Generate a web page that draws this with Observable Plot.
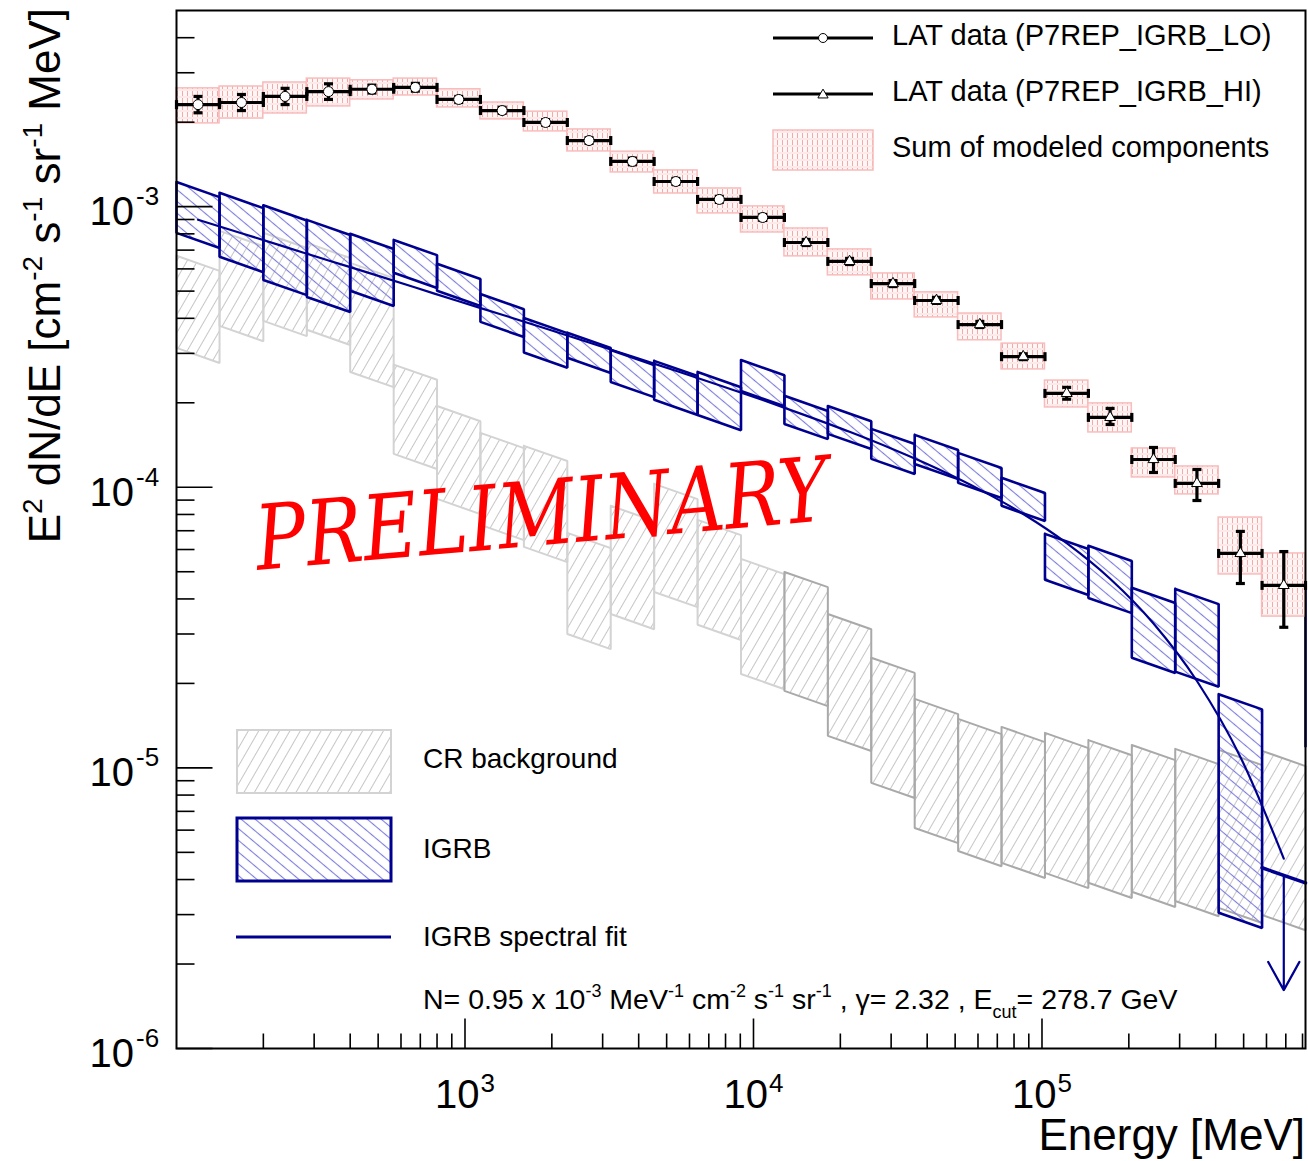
<!DOCTYPE html>
<html><head><meta charset="utf-8">
<script src="https://cdn.jsdelivr.net/npm/d3@7"></script>
<script src="https://cdn.jsdelivr.net/npm/@observablehq/plot@0.6"></script>
<style>body{margin:0;background:#fff;} #chart svg{display:block;}</style>
</head><body><div id="chart"></div>
<script>
// ---------------- data ----------------
const binEdges = [100, 141, 200, 283, 400, 566, 800, 1131, 1600, 2263, 3200, 4525, 6400, 9051, 12800, 18102, 25600, 36204, 51200, 72408, 102400, 144815, 204800, 289631, 409600, 579262, 819200];

const latSelection = ["LO","LO","LO","LO","LO","LO","LO","LO","LO","LO","LO","LO","LO","LO","HI","HI","HI","HI","HI","HI","HI","HI","HI","HI","HI","HI"];
const latFlux = [2.31e-3, 2.35e-3, 2.47e-3, 2.57e-3, 2.62e-3, 2.66e-3, 2.41e-3, 2.20e-3, 1.995e-3, 1.72e-3, 1.449e-3, 1.229e-3, 1.061e-3, 9.15e-4, 7.45e-4, 6.38e-4, 5.32e-4, 4.63e-4, 3.80e-4, 2.92e-4, 2.16e-4, 1.774e-4, 1.256e-4, 1.032e-4, 5.81e-5, 4.47e-5];
const latLow  = [2.16e-3, 2.20e-3, 2.31e-3, 2.41e-3, 2.54e-3, 2.58e-3, 2.35e-3, 2.15e-3, 1.95e-3, 1.68e-3, 1.41e-3, 1.20e-3, 1.035e-3, 8.93e-4, 7.27e-4, 6.22e-4, 5.19e-4, 4.52e-4, 3.71e-4, 2.85e-4, 2.06e-4, 1.674e-4, 1.129e-4, 8.97e-5, 4.54e-5, 3.17e-5];
const latHigh = [2.47e-3, 2.51e-3, 2.64e-3, 2.74e-3, 2.71e-3, 2.75e-3, 2.47e-3, 2.26e-3, 2.04e-3, 1.76e-3, 1.49e-3, 1.26e-3, 1.088e-3, 9.38e-4, 7.64e-4, 6.54e-4, 5.45e-4, 4.75e-4, 3.90e-4, 2.99e-4, 2.27e-4, 1.91e-4, 1.386e-4, 1.157e-4, 6.96e-5, 5.90e-5];

const modelLow  = [1.98e-3, 2.06e-3, 2.148e-3, 2.276e-3, 2.41e-3, 2.49e-3, 2.257e-3, 2.046e-3, 1.854e-3, 1.573e-3, 1.324e-3, 1.114e-3, 9.46e-4, 8.09e-4, 6.65e-4, 5.69e-4, 4.67e-4, 4.03e-4, 3.34e-4, 2.63e-4, 1.925e-4, 1.568e-4, 1.084e-4, 9.43e-5, 4.89e-5, 3.46e-5];
const modelHigh = [2.64e-3, 2.68e-3, 2.77e-3, 2.86e-3, 2.82e-3, 2.86e-3, 2.62e-3, 2.35e-3, 2.18e-3, 1.884e-3, 1.57e-3, 1.346e-3, 1.161e-3, 1.002e-3, 8.36e-4, 7.04e-4, 5.78e-4, 4.95e-4, 4.16e-4, 3.25e-4, 2.40e-4, 1.99e-4, 1.375e-4, 1.186e-4, 7.80e-5, 5.81e-5];

const igrbLow  = [7.58e-4, 6.22e-4, 5.15e-4, 4.48e-4, 4.71e-4, 5.46e-4, 4.71e-4, 3.65e-4, 2.84e-4, 2.72e-4, 2.23e-4, 1.925e-4, 1.70e-4, 2.07e-4, 1.58e-4, 1.456e-4, 1.186e-4, 1.138e-4, 9.74e-5, 8.07e-5, 4.40e-5, 3.79e-5, 2.32e-5, 2.07e-5, 2.86e-6];
const igrbHigh = [1.15e-3, 1.052e-3, 9.50e-4, 8.43e-4, 7.52e-4, 7.15e-4, 5.88e-4, 4.59e-4, 3.77e-4, 3.34e-4, 2.90e-4, 2.65e-4, 2.42e-4, 2.67e-4, 1.99e-4, 1.83e-4, 1.517e-4, 1.444e-4, 1.246e-4, 1.015e-4, 6.41e-5, 5.81e-5, 4.12e-5, 4.08e-5, 1.72e-5];
const igrbUpperLimit = [4.14e-6];          // last bin (upper limit)
const igrbEdgeSegment = [1.18e-5, 4.54e-5]; // blue segment on the right border

const crLow  = [2.95e-4, 3.53e-4, 3.68e-4, 3.42e-4, 2.42e-4, 1.236e-4, 8.54e-5, 6.90e-5, 5.76e-5, 2.82e-5, 3.32e-5, 3.98e-5, 3.04e-5, 2.03e-5, 1.767e-5, 1.222e-5, 8.31e-6, 5.74e-6, 4.75e-6, 4.31e-6, 3.97e-6, 3.66e-6, 3.40e-6, 3.15e-6, 2.98e-6, 2.81e-6];
const crHigh = [6.28e-4, 7.70e-4, 7.58e-4, 6.98e-4, 5.92e-4, 2.57e-4, 1.83e-4, 1.468e-4, 1.32e-4, 6.46e-5, 8.07e-5, 9.66e-5, 7.19e-5, 5.22e-5, 4.69e-5, 3.32e-5, 2.32e-5, 1.655e-5, 1.404e-5, 1.315e-5, 1.252e-5, 1.18e-5, 1.134e-5, 1.098e-5, 1.089e-5, 1.080e-5];

const fitFlux = [8.98e-4, 8.04e-4, 7.19e-4, 6.43e-4, 5.76e-4, 5.15e-4, 4.60e-4, 4.12e-4, 3.68e-4, 3.28e-4, 2.92e-4, 2.60e-4, 2.31e-4, 2.045e-4, 1.80e-4, 1.576e-4, 1.366e-4, 1.169e-4, 9.81e-5, 8.03e-5, 6.32e-5, 4.72e-5, 3.27e-5, 2.04e-5, 1.094e-5, 4.75e-6];

const yMajorTicks = [1e-6, 1e-5, 1e-4, 1e-3];
const yTickExponents = ["-6", "-5", "-4", "-3"];
const xMajorTicks = [1e3, 1e4, 1e5];
const xTickExponents = ["3", "4", "5"];

const legendLabels = ["LAT data (P7REP_IGRB_LO)", "LAT data (P7REP_IGRB_HI)", "Sum of modeled components"];
const legend2Labels = ["CR background", "IGRB", "IGRB spectral fit"];

// ---------------- derived tables ----------------
const bins = latFlux.map((_, i) => ({i, lo: binEdges[i], hi: binEdges[i + 1], c: Math.sqrt(binEdges[i] * binEdges[i + 1])}));
const lat = bins.map(b => ({...b, flux: latFlux[b.i], low: latLow[b.i], high: latHigh[b.i], sel: latSelection[b.i]}));
const model = bins.map(b => ({...b, low: modelLow[b.i], high: modelHigh[b.i]}));

const tilt = -0.36; // drawn slope of the box edges inside a bin (style)
const tf = (b, e) => Math.pow(e / b.c, tilt);
function areaRows(lows, highs) {
  return lows.flatMap((l, i) => [bins[i].lo, bins[i].hi].map(e => ({i, x: e, y1: l * tf(bins[i], e), y2: highs[i] * tf(bins[i], e)})));
}
function outlineRows(lows, highs) {
  return lows.flatMap((l, i) => {
    const b = bins[i], h = highs[i];
    return [[b.lo, h], [b.hi, h], [b.hi, l], [b.lo, l], [b.lo, h]].map(([e, v]) => ({i, x: e, y: v * tf(b, e)}));
  });
}
const crArea = areaRows(crLow, crHigh);
const crOutline = outlineRows(crLow, crHigh);
const igrbArea = areaRows(igrbLow, igrbHigh);
const igrbOutline = outlineRows(igrbLow, igrbHigh);
const ulBin = bins[25];
const ulRows = [ulBin.lo, ulBin.hi].map(e => ({x: e, y: igrbUpperLimit[0] * tf(ulBin, e)}));
const fitRows = bins.map(b => ({x: b.c, y: fitFlux[b.i]}));

const yMinorTicks = [];
for (const d of yMajorTicks) for (let k = 2; k <= 9; k++) if (k * d < 5e-3) yMinorTicks.push(k * d);
const xMinorTicks = [];
for (const d of [1e2, 1e3, 1e4, 1e5]) for (let k = 2; k <= 9; k++) if (k * d < 819200) xMinorTicks.push(k * d);

// ---------------- styles ----------------
const navy = "#000090";
const seg = (dx, dy) => ({draw(ctx) { ctx.moveTo(-dx, -dy); ctx.lineTo(dx, dy); }});
const tick = (dx, dy) => ({draw(ctx) { ctx.moveTo(0, 0); ctx.lineTo(dx, dy); }});

const plot = Plot.plot({
  width: 1308, height: 1161,
  marginLeft: 176, marginRight: 3, marginTop: 10, marginBottom: 113,
  x: {type: "log", domain: [100, 819200], axis: null},
  y: {type: "log", domain: [1e-6, 5e-3], axis: null},
  style: {background: "white"},
  marks: [
    // CR background
    Plot.areaY(crArea, {x: "x", y1: "y1", y2: "y2", z: "i", fill: "url(#hatchGray)"}),
    Plot.line(crOutline.filter(d => d.i < 14), {x: "x", y: "y", z: "i", stroke: "#d3d3d3", strokeWidth: 2, strokeLinejoin: "miter"}),
    Plot.line(crOutline.filter(d => d.i >= 14), {x: "x", y: "y", z: "i", stroke: "#a9a9a9", strokeWidth: 2, strokeLinejoin: "miter"}),
    // IGRB
    Plot.areaY(igrbArea, {x: "x", y1: "y1", y2: "y2", z: "i", fill: "url(#hatchBlue)"}),
    Plot.line(igrbOutline, {x: "x", y: "y", z: "i", stroke: navy, strokeWidth: 2.6, strokeLinejoin: "miter"}),
    Plot.line(fitRows, {x: "x", y: "y", curve: "monotone-x", stroke: navy, strokeWidth: 2.2}),
    Plot.line(ulRows, {x: "x", y: "y", stroke: navy, strokeWidth: 3.5}),
    Plot.arrow(igrbUpperLimit, {x1: () => ulBin.c, x2: () => ulBin.c, y1: d => d, y2: d => d * 0.39, stroke: navy, strokeWidth: 2.2, headLength: 22, headAngle: 58}),
    Plot.ruleX([ulBin.hi], {y1: igrbEdgeSegment[0], y2: igrbEdgeSegment[1], stroke: navy, strokeWidth: 2.5}),
    // model sum
    Plot.rect(model, {x1: "lo", x2: "hi", y1: "low", y2: "high", fill: "url(#hatchPink)", stroke: "#f8bcbc", strokeWidth: 1.5}),
    // LAT data
    Plot.ruleY(lat, {y: "flux", x1: "lo", x2: "hi", stroke: "black", strokeWidth: 3.2}),
    Plot.ruleX(lat, {x: "c", y1: "low", y2: "high", stroke: "black", strokeWidth: 3.2}),
    Plot.dot(lat, {x: "lo", y: "flux", r: 1, symbol: seg(0, 4.5), stroke: "black", strokeWidth: 3.2, fill: "none"}),
    Plot.dot(lat, {x: "hi", y: "flux", r: 1, symbol: seg(0, 4.5), stroke: "black", strokeWidth: 3.2, fill: "none"}),
    Plot.dot(lat, {x: "c", y: "low", r: 1, symbol: seg(4.5, 0), stroke: "black", strokeWidth: 3.2, fill: "none"}),
    Plot.dot(lat, {x: "c", y: "high", r: 1, symbol: seg(4.5, 0), stroke: "black", strokeWidth: 3.2, fill: "none"}),
    Plot.dot(lat.filter(d => d.sel === "LO"), {x: "c", y: "flux", r: 5, fill: "white", stroke: "black", strokeWidth: 1}),
    Plot.dot(lat.filter(d => d.sel === "HI"), {x: "c", y: "flux", r: 4, symbol: "triangle", fill: "white", stroke: "black", strokeWidth: 1}),
    // frame and inward ticks
    Plot.frame({stroke: "black", strokeWidth: 2}),
    Plot.dot(yMajorTicks, {x: () => 100, y: d => d, r: 1, symbol: tick(36, 0), stroke: "black", strokeWidth: 1.6, fill: "none"}),
    Plot.dot(yMinorTicks, {x: () => 100, y: d => d, r: 1, symbol: tick(18, 0), stroke: "black", strokeWidth: 1.6, fill: "none"}),
    Plot.dot(xMajorTicks, {x: d => d, y: () => 1e-6, r: 1, symbol: tick(0, -30), stroke: "black", strokeWidth: 1.6, fill: "none"}),
    Plot.dot(xMinorTicks, {x: d => d, y: () => 1e-6, r: 1, symbol: tick(0, -15), stroke: "black", strokeWidth: 1.6, fill: "none"})
  ]
});
document.getElementById("chart").append(plot);

// ---------------- patterns, texts, legends ----------------
const svg = d3.select(plot);
const defs = svg.insert("defs", ":first-child");
function hatch(id, angle, size, color, width) {
  const p = defs.append("pattern").attr("id", id).attr("patternUnits", "userSpaceOnUse")
    .attr("width", size).attr("height", size).attr("patternTransform", `rotate(${angle})`);
  p.append("line").attr("x1", size / 2).attr("y1", 0).attr("x2", size / 2).attr("y2", size)
    .attr("stroke", color).attr("stroke-width", width);
}
hatch("hatchBlue", -50, 9, "#7d7dde", 1.1);
hatch("hatchGray", 30, 9, "#c6c6c6", 1);
const pp = defs.append("pattern").attr("id", "hatchPink").attr("patternUnits", "userSpaceOnUse").attr("width", 5).attr("height", 7);
pp.append("rect").attr("width", 5).attr("height", 7).attr("fill", "#fff6f6");
pp.append("line").attr("x1", 2.5).attr("y1", 0).attr("x2", 2.5).attr("y2", 5).attr("stroke", "#f5a9a9").attr("stroke-width", 1);
pp.append("line").attr("x1", 0).attr("y1", 6).attr("x2", 5).attr("y2", 6).attr("stroke", "#fadcdc").attr("stroke-width", 1);

const xs = plot.scale("x"), ys = plot.scale("y");
const g = svg.append("g").attr("font-family", "'Liberation Sans', Arial, Helvetica, sans-serif")
  .attr("fill", "black").attr("text-anchor", "start").style("white-space", "pre");

function rich(parent, x, y, parts, size, small, anchor = "start") {
  const t = parent.append("text").attr("x", x).attr("y", y).attr("font-size", size).attr("text-anchor", anchor);
  let shift = 0;
  for (const p of parts) {
    const [s, kind] = Array.isArray(p) ? p : [p, null];
    const target = kind === "sup" ? -size * 0.42 : kind === "sub" ? size * 0.3 : 0;
    const ts = t.append("tspan").attr("dy", target - shift).text(s);
    shift = target;
    if (kind) ts.attr("font-size", small);
  }
  return t;
}

// tick labels
yMajorTicks.forEach((v, k) => {
  const y = ys.apply(v);
  g.append("text").attr("x", 134).attr("y", y + 19).attr("font-size", 40).attr("text-anchor", "end").text("10");
  g.append("text").attr("x", 136).attr("y", y - 1).attr("font-size", 26).attr("text-anchor", "start").text(yTickExponents[k]);
});
xMajorTicks.forEach((v, k) => {
  const x = xs.apply(v);
  g.append("text").attr("x", x + 15).attr("y", 1108).attr("font-size", 40).attr("text-anchor", "end").text("10");
  g.append("text").attr("x", x + 16).attr("y", 1092).attr("font-size", 26).attr("text-anchor", "start").text(xTickExponents[k]);
});

// axis titles
g.append("text").attr("x", 1305).attr("y", 1150).attr("font-size", 44).attr("text-anchor", "end").text("Energy [MeV]");
const yt = g.append("g").attr("transform", "translate(60,8) rotate(-90)");
rich(yt, 0, 0, ["E", ["2", "sup"], " dN/dE [cm", ["-2", "sup"], " s", ["-1", "sup"], " sr", ["-1", "sup"], " MeV]"], 44, 28, "end");

// top-right legend
const lg = g.append("g");
lg.append("line").attr("x1", 773).attr("x2", 873).attr("y1", 38).attr("y2", 38).attr("stroke", "black").attr("stroke-width", 3);
lg.append("circle").attr("cx", 823).attr("cy", 38).attr("r", 4.5).attr("fill", "white").attr("stroke", "black").attr("stroke-width", 1);
lg.append("line").attr("x1", 773).attr("x2", 873).attr("y1", 94).attr("y2", 94).attr("stroke", "black").attr("stroke-width", 3);
lg.append("path").attr("d", d3.symbol(d3.symbolTriangle, 45)()).attr("transform", "translate(823,95)").attr("fill", "white").attr("stroke", "black").attr("stroke-width", 1);
lg.append("rect").attr("x", 773).attr("y", 130).attr("width", 100).attr("height", 40).attr("fill", "url(#hatchPink)").attr("stroke", "#f8bcbc").attr("stroke-width", 1.5);
[45, 101, 157].forEach((y, k) => lg.append("text").attr("x", 892).attr("y", y).attr("font-size", 29).attr("text-anchor", "start").text(legendLabels[k]));

// bottom-left legend
const lb = g.append("g");
lb.append("rect").attr("x", 237).attr("y", 730).attr("width", 154).attr("height", 63).attr("fill", "url(#hatchGray)").attr("stroke", "#d3d3d3").attr("stroke-width", 2);
lb.append("rect").attr("x", 237).attr("y", 818).attr("width", 154).attr("height", 63).attr("fill", "url(#hatchBlue)").attr("stroke", navy).attr("stroke-width", 3);
lb.append("line").attr("x1", 236).attr("x2", 391).attr("y1", 937).attr("y2", 937).attr("stroke", navy).attr("stroke-width", 3);
[768, 858, 946].forEach((y, k) => lb.append("text").attr("x", 423).attr("y", y).attr("font-size", 28).attr("text-anchor", "start").text(legend2Labels[k]));
rich(lb, 423, 1009, ["N= 0.95 x 10", ["-3", "sup"], " MeV", ["-1", "sup"], " cm", ["-2", "sup"], " s", ["-1", "sup"], " sr", ["-1", "sup"], " , \u03b3= 2.32 , E", ["cut", "sub"], "= 278.7 GeV"], 28.5, 18);

// PRELIMINARY stamp
svg.append("text").attr("x", 258).attr("y", 570).attr("transform", "rotate(-5,258,570)")
  .attr("text-anchor", "start")
  .attr("font-family", "'DejaVu Serif', serif").attr("font-style", "italic").attr("font-size", 90)
  .attr("fill", "#ff0000").attr("textLength", 575).attr("lengthAdjust", "spacingAndGlyphs").text("PRELIMINARY");
</script></body></html>
